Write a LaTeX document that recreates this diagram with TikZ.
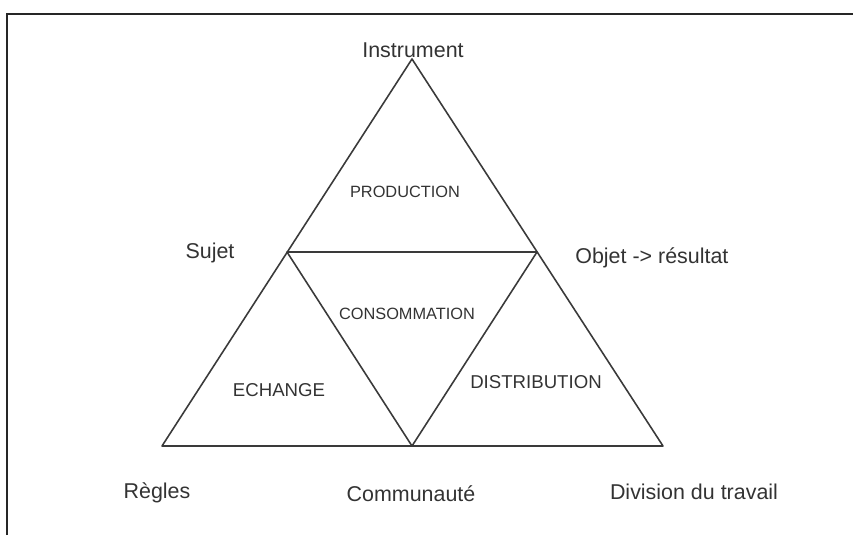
\documentclass[tikz,border=0pt]{standalone}
\usepackage{fontspec}
\setmainfont{Liberation Sans}
\definecolor{inkgray}{HTML}{333333}
\definecolor{linegray}{HTML}{3A3A3A}

\begin{document}
\begin{tikzpicture}[x=0.02cm, y=-0.02cm,
    pole/.style={font=\fontsize{12.2}{14}\selectfont, text=inkgray, inner sep=0pt, anchor=base},
    zone/.style={font=\fontsize{9.3}{11}\selectfont, text=inkgray, inner sep=0pt, anchor=base},
    bigzone/.style={font=\fontsize{10.6}{12}\selectfont, text=inkgray, inner sep=0pt, anchor=base},
    edge/.style={draw=linegray, line width=0.9pt, line join=round}]
            \useasboundingbox (0,0) rectangle (853,535);
            \draw[line width=1.5pt, black!85] (7,535) -- (7,14) -- (853,14);

            \coordinate (apex) at (412, 59);
            \coordinate (left) at (162, 446);
            \coordinate (right) at (663, 446);
            \coordinate (midL) at (287, 252);
            \coordinate (midR) at (537, 252);
            \coordinate (midB) at (412, 446);

            \draw[edge] (apex) -- (left) -- (right) -- cycle;
            \draw[edge] (midL) -- (midR) -- (midB) -- cycle;

            \node[pole] (instrument) at (413, 57) {Instrument};
            \node[pole] (sujet) at (210, 258) {Sujet};
            \node[pole, anchor=base west] (objet) at (575, 263) {Objet -> résultat};
            \node[pole] (regles) at (157, 498) {Règles};
            \node[pole] (communaute) at (411, 501) {Communauté};
            \node[pole] (division) at (694, 499) {Division du travail};

            \node[zone] (production) at (405, 197) {PRODUCTION};
            \node[zone] (consommation) at (407, 319) {CONSOMMATION};
            \node[bigzone] (echange) at (279, 396) {ECHANGE};
            \node[bigzone] (distribution) at (536, 388) {DISTRIBUTION};
        \end{tikzpicture}
\end{document}
